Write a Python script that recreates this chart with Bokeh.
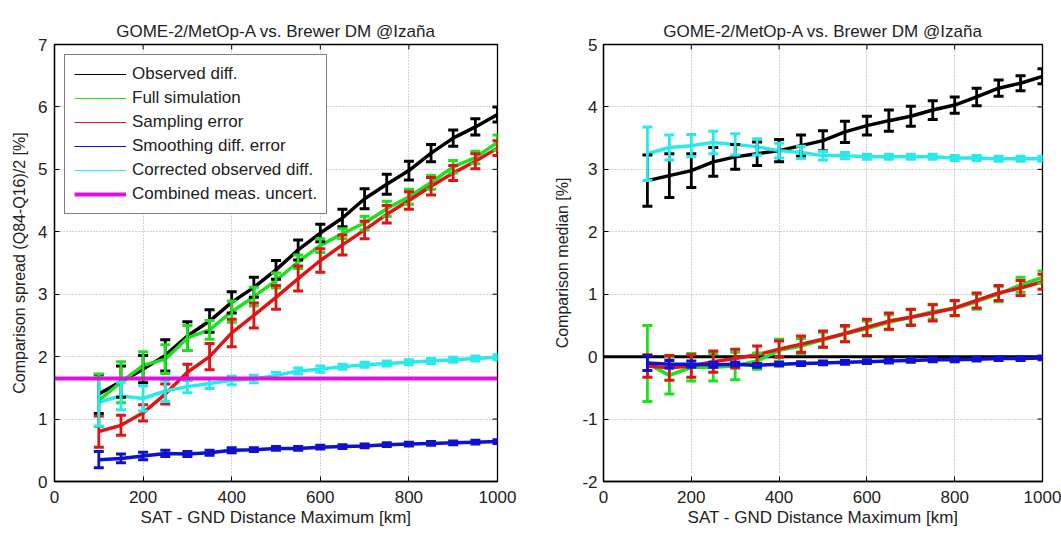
import math
from bokeh.plotting import figure
from bokeh.layouts import row
from bokeh.models import Range1d, Whisker, TeeHead, ColumnDataSource, Legend, LegendItem, FixedTicker, Span
from bokeh.embed import file_html
from bokeh.resources import INLINE

TITLE = "GOME-2/MetOp-A vs. Brewer DM @Izaña"
XLABEL = "SAT - GND Distance Maximum [km]"
dist = [100, 150, 200, 250, 300, 350, 400, 450, 500, 550, 600, 650, 700, 750, 800, 850, 900, 950, 1000]
x_ticks = [0, 200, 400, 600, 800, 1000]

# ---- left panel: spread ----
spread_obs = [1.40, 1.60, 1.80, 2.02, 2.33, 2.57, 2.87, 3.11, 3.39, 3.71, 3.98, 4.22, 4.53, 4.76, 4.98, 5.26, 5.50, 5.68, 5.88]
spread_obs_err = [0.31, 0.25, 0.22, 0.25, 0.23, 0.18, 0.17, 0.16, 0.15, 0.16, 0.14, 0.14, 0.16, 0.16, 0.15, 0.14, 0.13, 0.13, 0.12]
spread_sim = [1.30, 1.59, 1.86, 1.96, 2.30, 2.43, 2.72, 2.96, 3.22, 3.52, 3.78, 3.97, 4.14, 4.37, 4.56, 4.79, 5.04, 5.19, 5.43]
spread_sim_err = [0.42, 0.33, 0.22, 0.23, 0.20, 0.15, 0.17, 0.15, 0.12, 0.11, 0.11, 0.08, 0.11, 0.12, 0.12, 0.11, 0.10, 0.10, 0.12]
spread_samp = [0.80, 0.90, 1.10, 1.40, 1.75, 2.00, 2.38, 2.66, 2.95, 3.25, 3.54, 3.79, 4.03, 4.28, 4.50, 4.73, 4.94, 5.13, 5.34]
spread_samp_err = [0.25, 0.16, 0.13, 0.16, 0.13, 0.21, 0.22, 0.20, 0.19, 0.20, 0.19, 0.16, 0.14, 0.14, 0.14, 0.14, 0.12, 0.12, 0.12]
spread_smooth = [0.35, 0.37, 0.41, 0.45, 0.44, 0.46, 0.50, 0.51, 0.53, 0.53, 0.55, 0.56, 0.57, 0.59, 0.60, 0.61, 0.62, 0.63, 0.64]
spread_smooth_err = [0.13, 0.07, 0.06, 0.05, 0.04, 0.04, 0.04, 0.03, 0.03, 0.03, 0.03, 0.03, 0.03, 0.03, 0.03, 0.03, 0.03, 0.03, 0.03]
spread_corr = [1.27, 1.37, 1.33, 1.45, 1.52, 1.57, 1.62, 1.64, 1.70, 1.77, 1.80, 1.84, 1.87, 1.89, 1.91, 1.93, 1.95, 1.97, 1.99]
spread_corr_err = [0.38, 0.22, 0.20, 0.17, 0.10, 0.08, 0.07, 0.06, 0.05, 0.05, 0.05, 0.04, 0.04, 0.04, 0.04, 0.04, 0.04, 0.04, 0.04]
combined_uncert = 1.65

# ---- right panel: median ----
med_obs = [2.82, 2.90, 2.98, 3.12, 3.20, 3.25, 3.30, 3.38, 3.46, 3.60, 3.70, 3.78, 3.85, 3.95, 4.03, 4.16, 4.30, 4.38, 4.49]
med_obs_err = [0.41, 0.35, 0.27, 0.23, 0.20, 0.19, 0.18, 0.17, 0.16, 0.17, 0.15, 0.17, 0.16, 0.15, 0.13, 0.14, 0.13, 0.12, 0.12]
med_sim = [-0.11, -0.30, -0.17, -0.17, -0.15, -0.07, 0.10, 0.17, 0.27, 0.36, 0.45, 0.55, 0.63, 0.72, 0.77, 0.88, 1.00, 1.15, 1.27]
med_sim_err = [0.61, 0.30, 0.22, 0.22, 0.22, 0.13, 0.18, 0.12, 0.12, 0.12, 0.12, 0.12, 0.12, 0.12, 0.12, 0.12, 0.12, 0.12, 0.10]
med_samp = [-0.15, -0.18, -0.15, -0.08, -0.03, 0.03, 0.12, 0.20, 0.28, 0.37, 0.47, 0.57, 0.63, 0.70, 0.78, 0.90, 1.02, 1.10, 1.20]
med_samp_err = [0.18, 0.20, 0.18, 0.17, 0.15, 0.14, 0.13, 0.13, 0.13, 0.13, 0.13, 0.13, 0.13, 0.13, 0.12, 0.12, 0.12, 0.12, 0.12]
med_smooth = [-0.10, -0.12, -0.12, -0.13, -0.12, -0.14, -0.12, -0.11, -0.10, -0.09, -0.08, -0.07, -0.06, -0.05, -0.05, -0.04, -0.03, -0.03, -0.02]
med_smooth_err = [0.12, 0.06, 0.05, 0.04, 0.03, 0.03, 0.03, 0.03, 0.03, 0.03, 0.03, 0.03, 0.03, 0.03, 0.03, 0.03, 0.03, 0.03, 0.03]
med_corr = [3.25, 3.35, 3.38, 3.43, 3.40, 3.36, 3.30, 3.27, 3.22, 3.22, 3.20, 3.20, 3.20, 3.20, 3.18, 3.18, 3.17, 3.17, 3.17]
med_corr_err = [0.43, 0.20, 0.18, 0.18, 0.17, 0.13, 0.12, 0.10, 0.07, 0.05, 0.04, 0.04, 0.04, 0.04, 0.04, 0.04, 0.04, 0.04, 0.04]

legend_labels = ["Observed diff.", "Full simulation", "Sampling error", "Smoothing diff. error",
                 "Corrected observed diff.", "Combined meas. uncert."]

BLACK = "#000000"
GREEN = "#1ee01e"
RED = "#e01414"
BLUE = "#1010d0"
CYAN = "#28eaea"
MAGENTA = "#e010e0"
FONT = "Liberation Sans"
TXT = "#222222"


def make_fig(width, height, ylo, yhi, ylabel, mbl, mbr, mbt, mbb, ystandoff, ylabstandoff):
    y_ticks = list(range(ylo, yhi + 1))
    p = figure(width=width, height=height, x_range=Range1d(0, 1000), y_range=Range1d(ylo, yhi),
               output_backend="svg", toolbar_location=None,
               min_border_left=mbl, min_border_right=mbr, min_border_top=mbt, min_border_bottom=mbb)
    p.title.text = TITLE
    p.title.align = "center"
    p.title.text_font = FONT
    p.title.text_font_size = "17px"
    p.title.text_font_style = "normal"
    p.title.text_color = TXT
    p.title.standoff = 8
    p.outline_line_color = "black"
    p.outline_line_width = 1.3
    p.outline_line_alpha = 1
    p.xaxis.ticker = FixedTicker(ticks=x_ticks)
    p.yaxis.ticker = FixedTicker(ticks=y_ticks)
    p.yaxis.major_label_overrides = {t: str(t) for t in y_ticks}
    for ax in (p.xaxis[0], p.yaxis[0]):
        ax.major_tick_in = 5
        ax.major_tick_out = 0
        ax.minor_tick_line_color = None
        ax.axis_line_color = "black"
        ax.axis_line_width = 1.3
        ax.major_label_text_font = FONT
        ax.major_label_text_font_size = "17px"
        ax.major_label_text_color = TXT
        ax.axis_label_text_font = FONT
        ax.axis_label_text_font_style = "normal"
        ax.axis_label_text_color = TXT
    p.xaxis.axis_label = XLABEL
    p.xaxis.axis_label_text_font_size = "17px"
    p.xaxis.major_label_standoff = 9
    p.xaxis.axis_label_standoff = 2
    p.yaxis.axis_label = ylabel
    p.yaxis.axis_label_text_font_size = "16px"
    p.yaxis.major_label_standoff = ystandoff
    p.yaxis.axis_label_standoff = ylabstandoff
    for g in (p.xgrid[0], p.ygrid[0]):
        g.grid_line_color = "#a8a8a8"
        g.grid_line_dash = "1 2"
        g.grid_line_width = 1
    p.xgrid.ticker = FixedTicker(ticks=x_ticks)
    p.ygrid.ticker = FixedTicker(ticks=y_ticks)
    # mirrored inward ticks on the top and right edges
    p.ray(x=x_ticks, y=[yhi] * len(x_ticks), length=5, length_units="screen", angle=-math.pi / 2,
          line_color="black", line_width=1)
    p.ray(x=[1000] * len(y_ticks), y=y_ticks, length=5, length_units="screen", angle=math.pi,
          line_color="black", line_width=1)
    return p


def series(p, y, err, color):
    lo = [a - e for a, e in zip(y, err)]
    hi = [a + e for a, e in zip(y, err)]
    src = ColumnDataSource(dict(x=dist, y=y, lo=lo, hi=hi))
    p.line("x", "y", source=src, line_color=color, line_width=3.5)
    w = Whisker(source=src, base="x", lower="lo", upper="hi", line_color=color, line_width=2.8,
                upper_head=TeeHead(size=10, line_color=color, line_width=3),
                lower_head=TeeHead(size=10, line_color=color, line_width=3), level="glyph")
    p.add_layout(w)


# Left figure
p1 = make_fig(525, 533, 0, 7, "Comparison spread (Q84-Q16)/2 [%]", 54, 28, 44, 49, 7, 7)
series(p1, spread_obs, spread_obs_err, BLACK)
series(p1, spread_sim, spread_sim_err, GREEN)
series(p1, spread_samp, spread_samp_err, RED)
series(p1, spread_smooth, spread_smooth_err, BLUE)
series(p1, spread_corr, spread_corr_err, CYAN)
p1.add_layout(Span(location=combined_uncert, dimension="width", line_color=MAGENTA, line_width=4, level="glyph"))

leg_colors = [BLACK, GREEN, RED, BLUE, CYAN, MAGENTA]
leg_widths = [1, 1, 1, 1, 1, 4]
items = []
for lab, c, lw in zip(legend_labels, leg_colors, leg_widths):
    # legend-only renderers: placed outside the visible range
    r = p1.line(x=[-500, -400], y=[-5, -5], line_color=c, line_width=lw)
    items.append(LegendItem(label=lab, renderers=[r]))
leg = Legend(items=items, location="top_left", margin=10, padding=9, spacing=4,
             label_text_font=FONT, label_text_font_size="17px", label_text_color=TXT,
             label_height=20, glyph_height=20, glyph_width=52, label_standoff=6,
             border_line_color="black", border_line_width=1.5, background_fill_alpha=1)
p1.add_layout(leg, "center")

# Right figure
p2 = make_fig(536, 533, -2, 5, "Comparison median [%]", 78, 19, 42, 52, 6, 8)
p2.add_layout(Span(location=0, dimension="width", line_color=BLACK, line_width=3, level="underlay"))
series(p2, med_obs, med_obs_err, BLACK)
series(p2, med_sim, med_sim_err, GREEN)
series(p2, med_samp, med_samp_err, RED)
series(p2, med_smooth, med_smooth_err, BLUE)
series(p2, med_corr, med_corr_err, CYAN)

layout = row(p1, p2)
open("out.html", "w").write(file_html(layout, INLINE))
